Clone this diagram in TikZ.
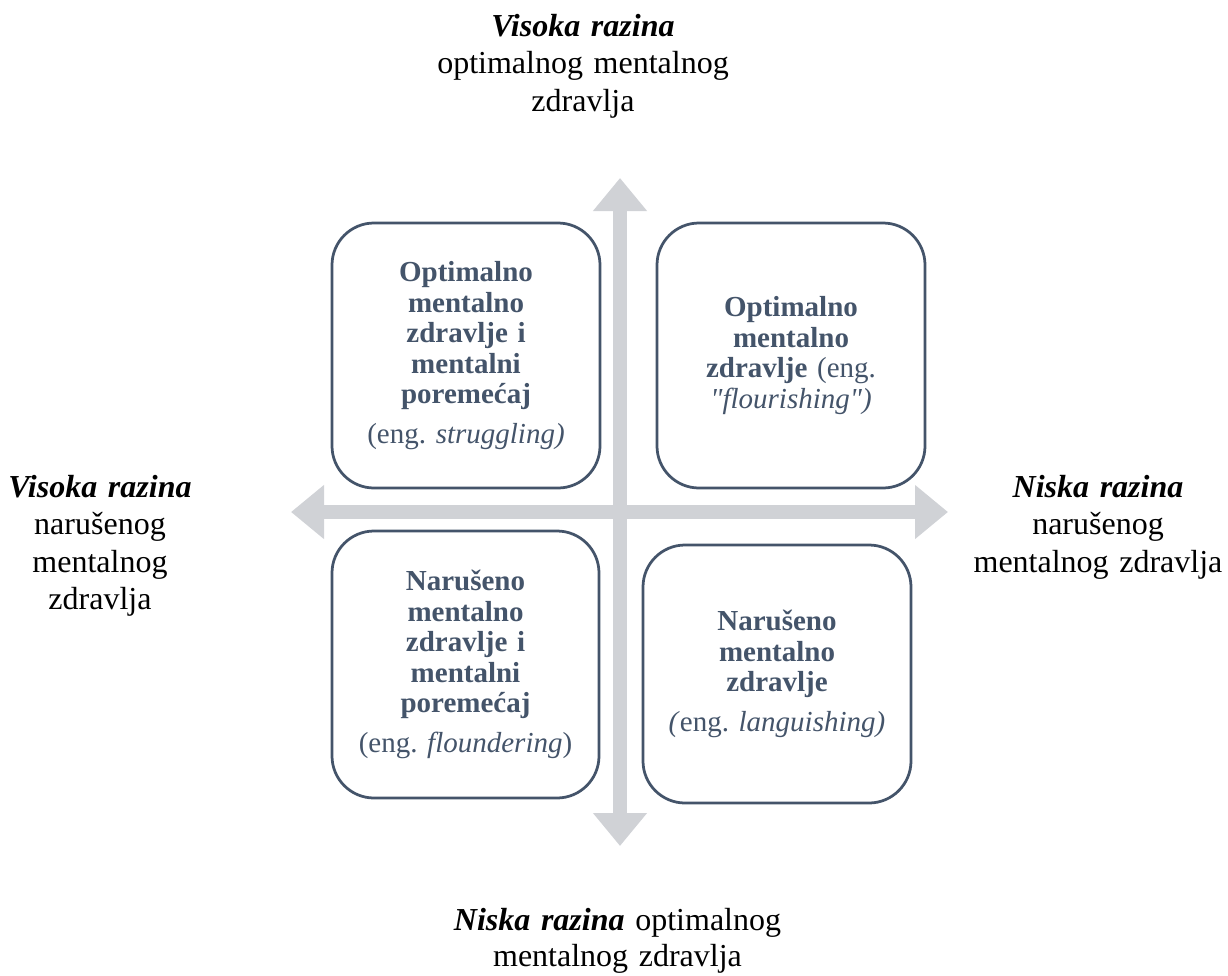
\documentclass[tikz,border=0pt]{standalone}
\usepackage{fontspec}
\setmainfont{Liberation Serif}[Ligatures=TeXOff]
\usetikzlibrary{arrows.meta}
\definecolor{slate}{HTML}{44546A}
\definecolor{axisgrey}{HTML}{D0D2D6}
\frenchspacing
\begin{document}
\begin{tikzpicture}[x=1pt,y=-1pt,
  quad/.style={draw=slate, line width=2.75pt, rounded corners=42pt, fill=white, text=slate,
    align=center, inner sep=0pt, text width=250pt,
    font=\fontsize{29}{30.5}\selectfont},
  axisarrow/.style={draw=axisgrey, line width=14pt,
    {Triangle[width=52pt,length=33pt]}-{Triangle[width=52pt,length=33pt]}},
  sidetext/.style={align=center, inner sep=0pt, anchor=base,
    font=\fontsize{32}{37.5}\selectfont}]
\useasboundingbox (0,0) rectangle (1228,975);

% axes
\coordinate (top) at (620,178);
\coordinate (bottom) at (620,846);
\coordinate (west) at (291,512);
\coordinate (east) at (948,512);
\draw[axisarrow] (bottom) -- (top);
\draw[axisarrow] (west) -- (east);

% quadrants
\node[quad, minimum width=268pt, minimum height=265pt] (tl) at (466,355.5)
  {\bfseries Optimalno\\mentalno\\zdravlje i\\mentalni\\poremećaj\\[9pt]\mdseries (eng. \textit{struggling)}};
\node[quad, minimum width=268pt, minimum height=265pt] (tr) at (791,355.5)
  {\bfseries Optimalno\\mentalno\\zdravlje \mdseries(eng.\\\textit{"flourishing")}};
\node[quad, minimum width=267pt, minimum height=267pt] (bl) at (465.5,664.5)
  {\bfseries Narušeno\\mentalno\\zdravlje i\\mentalni\\poremećaj\\[9pt]\mdseries (eng. \textit{floundering})};
\node[quad, minimum width=268pt, minimum height=258pt] (br) at (777,674)
  {\bfseries Narušeno\\mentalno\\zdravlje\\[9pt]\mdseries\textit{(}eng. \textit{languishing)}};

% axis labels
\node[sidetext, text width=320pt] (toplbl) at (583,36)
  {\textbf{\textit{Visoka razina}}\\optimalnog mentalnog\\zdravlja};
\node[sidetext, text width=200pt] (leftlbl) at (100,497)
  {\textbf{\textit{Visoka razina}}\\narušenog\\mentalnog\\zdravlja};
\node[sidetext, text width=260pt] (rightlbl) at (1098,497)
  {\textbf{\textit{Niska razina}}\\narušenog\\mentalnog zdravlja};
\node[sidetext, text width=400pt, font=\fontsize{32}{36}\selectfont] (bottomlbl) at (617.5,930)
  {\textbf{\textit{Niska razina}} optimalnog\\mentalnog zdravlja};
\end{tikzpicture}
\end{document}
